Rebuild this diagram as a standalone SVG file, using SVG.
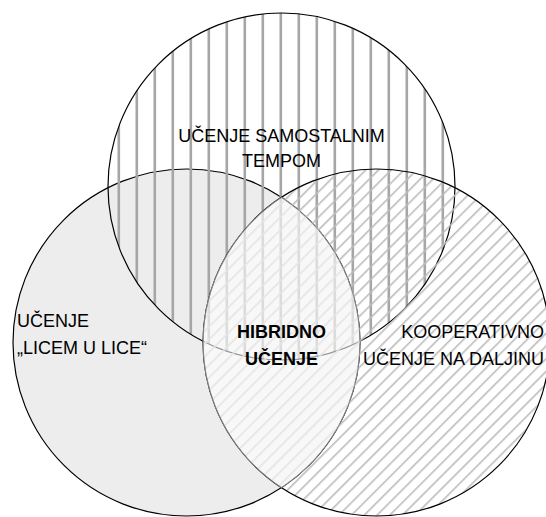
<svg xmlns="http://www.w3.org/2000/svg" width="546" height="517" viewBox="0 0 546 517">
<style>
.outline{fill:none;stroke:#000;stroke-width:1.2}
.lbl{font-family:"Liberation Sans",Arial,sans-serif;font-size:18px;fill:#000}
.bold{font-weight:bold}
</style>
<defs>
<pattern id="vstripes" patternUnits="userSpaceOnUse" x="0" y="0" width="18" height="18">
<rect x="9.5" y="0" width="2.6" height="18" fill="#a6a6a6"/>
</pattern>
<pattern id="dstripes" patternUnits="userSpaceOnUse" x="0" y="0" width="9" height="9" patternTransform="rotate(45)">
<rect x="0" y="0" width="1.6" height="9" fill="#bdbdbd"/>
</pattern>
</defs>
<rect width="546" height="517" fill="#fff"/>
<g id="face-to-face">
<circle cx="186.5" cy="342.5" r="173.5" fill="#ededed"/>
<circle class="outline" cx="186.5" cy="342.5" r="173.5"/>
<text class="lbl" x="17" y="327">UČENJE</text>
<text class="lbl" x="17" y="354">„LICEM U LICE“</text>
</g>
<g id="self-paced">
<circle cx="281.5" cy="186.5" r="173.5" fill="url(#vstripes)"/>
<circle class="outline" cx="281.5" cy="186.5" r="173.5"/>
<text class="lbl" x="281.5" y="142" text-anchor="middle">UČENJE SAMOSTALNIM</text>
<text class="lbl" x="281.5" y="167" text-anchor="middle">TEMPOM</text>
</g>
<g id="distance">
<circle cx="376.5" cy="342.5" r="173.5" fill="url(#dstripes)"/>
<circle class="outline" cx="376.5" cy="342.5" r="173.5"/>
<text class="lbl" x="544" y="338" text-anchor="end">KOOPERATIVNO</text>
<text class="lbl" x="544" y="365" text-anchor="end">UČENJE NA DALJINU</text>
</g>
<g id="hybrid">
<path d="M281.5,197.32 A173.5,173.5 0 0 1 281.5,487.68 A173.5,173.5 0 0 1 281.5,197.32 Z" fill="#fff" fill-opacity="0.6" stroke="#8a8a8a" stroke-width="0.9"/>
<text class="lbl bold" x="281.5" y="338" text-anchor="middle">HIBRIDNO</text>
<text class="lbl bold" x="281.5" y="365" text-anchor="middle">UČENJE</text>
</g>
</svg>
